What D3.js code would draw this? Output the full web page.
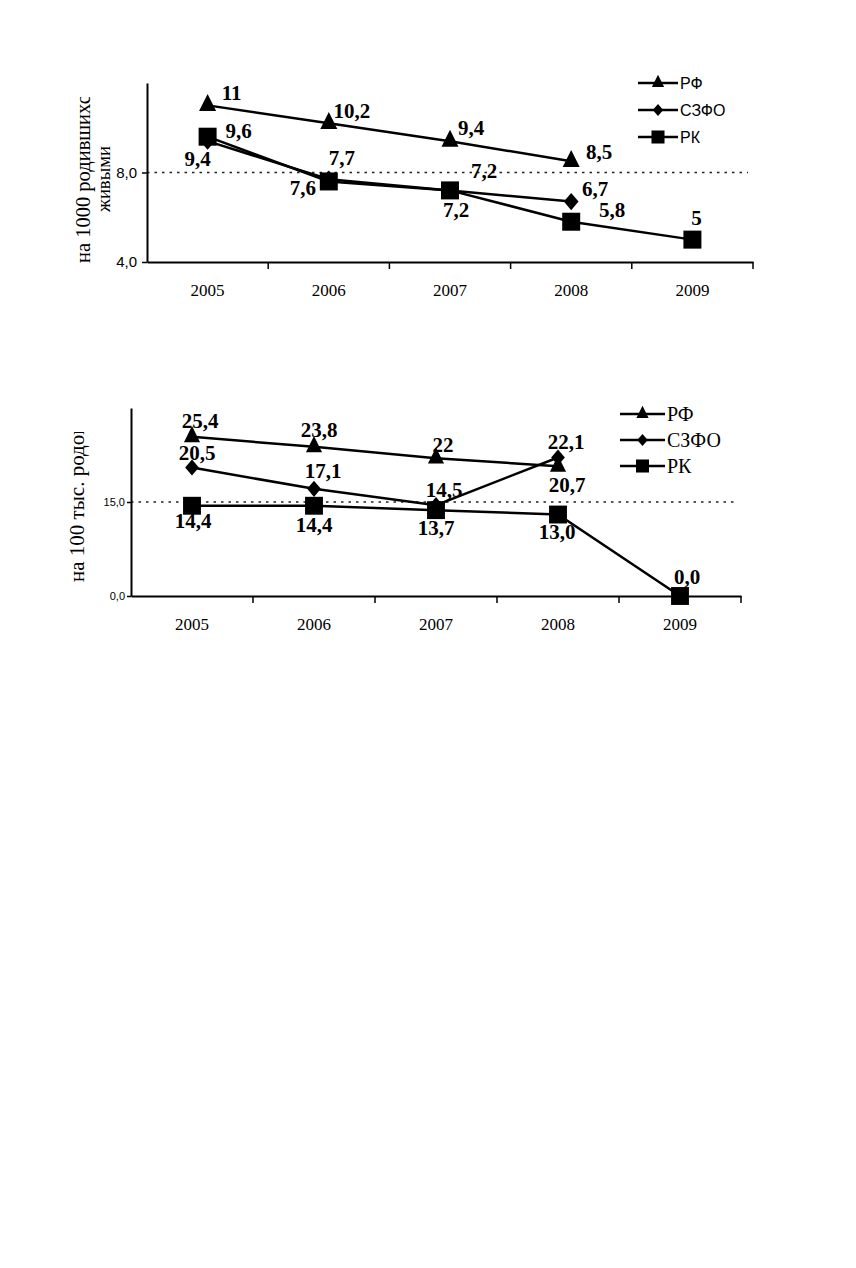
<!DOCTYPE html>
<html><head><meta charset="utf-8">
<script src="https://cdn.jsdelivr.net/npm/d3@7/dist/d3.min.js"></script>
<style>body{margin:0;background:#fff}svg{display:block}</style>
</head><body><svg id="c" width="856" height="1268"></svg>
<script>
// ---- data ----
const years = ["2005", "2006", "2007", "2008", "2009"];
const seriesNames = ["РФ", "СЗФО", "РК"];
// chart 1: per 1000 live births
const rf1 = [11, 10.2, 9.4, 8.5, null];
const szfo1 = [9.4, 7.7, 7.2, 6.7, null];
const rk1 = [9.6, 7.6, 7.2, 5.8, 5];
const yDomain1 = [4, 12];
const yTicks1 = [4, 8];
const refLine1 = 8;
const yTitle1a = "на 1000 родившихся";
const yTitle1b = "живыми";
// chart 2: per 100 thousand births
const rf2 = [25.4, 23.8, 22, 20.7, null];
const szfo2 = [20.5, 17.1, 14.5, 22.1, null];
const rk2 = [14.4, 14.4, 13.7, 13.0, 0.0];
const yDomain2 = [0, 30];
const yTicks2 = [0, 15];
const refLine2 = 15;
const yTitle2 = "на 100 тыс. родов";

// ---- label placement (dx, dy relative to point) ----
const lab1 = [
  [[24,-5],[23,-5],[21,-6],[28,-2]],
  [[-10,25],[13,-14],[34,-12],[24,-6]],
  [[31,1],[-26,14],[6,27],[41,-5],[4,-15]]
];
const lab2 = [
  [[8,-9],[5,-10],[7,-6],[9,26]],
  [[5,-8],[9,-11],[8,-8],[8,-9]],
  [[1,22],[0,26],[0,25],[-1,24],[7,-12]]
];

const svg = d3.select("#c");
const SERIF = "'Liberation Serif','Times New Roman',serif";
const SANS = "'Liberation Sans',Arial,sans-serif";

const triType = { draw(ctx, s) { const w = Math.sqrt(s); const h = w;
  ctx.moveTo(0, -h*2/3); ctx.lineTo(w/2, h/3); ctx.lineTo(-w/2, h/3); ctx.closePath(); } };
const diaType = { draw(ctx, s) { const w = Math.sqrt(s)*0.85, h = Math.sqrt(s);
  ctx.moveTo(0, -h/2); ctx.lineTo(w/2, 0); ctx.lineTo(0, h/2); ctx.lineTo(-w/2, 0); ctx.closePath(); } };
const sqType = { draw(ctx, s) { const w = Math.sqrt(s);
  ctx.rect(-w/2, -w/2, w, w); } };
const types = [triType, diaType, sqType];

const comma = v => String(v).replace(".", ",");
const fixed1 = v => v.toFixed(1).replace(".", ",");

function chart(cfg) {
  const g = svg.append("g");
  const x = d3.scaleBand().domain(years).range(cfg.xr).padding(0);
  const y = d3.scaleLinear().domain(cfg.yd).range(cfg.yr);

  // reference dotted line
  g.append("line").attr("x1", cfg.xr[0]).attr("x2", cfg.xr[1] - 5)
    .attr("y1", y(cfg.ref)).attr("y2", y(cfg.ref))
    .attr("stroke", "#222").attr("stroke-width", 1.5).attr("stroke-dasharray", "2.5,5");

  // y axis
  const ya = g.append("g").attr("transform", `translate(${cfg.xr[0]},0)`)
    .call(d3.axisLeft(y).tickValues(cfg.yTicks).tickSize(cfg.yTickSize).tickSizeOuter(0)
      .tickPadding(cfg.yPad).tickFormat(fixed1));
  ya.select(".domain").attr("stroke", "#000").attr("stroke-width", 2);
  ya.selectAll(".tick line").attr("stroke", "#000").attr("stroke-width", 1.5);
  ya.selectAll("text").attr("font-family", SANS).attr("font-size", cfg.yFont).attr("fill", "#000");

  // x axis
  const xa = g.append("g").attr("transform", `translate(0,${cfg.yr[0]})`)
    .call(d3.axisBottom(x).tickSize(0).tickSizeOuter(0));
  xa.select(".domain").attr("stroke", "#000").attr("stroke-width", 2);
  xa.selectAll("text").attr("y", 34).attr("dy", 0).attr("font-family", SERIF)
    .attr("font-size", cfg.xFont).attr("fill", "#000");
  const bounds = years.map(d => x(d)).concat([cfg.xr[1]]);
  g.selectAll(".bt").data(bounds.slice(1)).join("line")
    .attr("x1", d => d).attr("x2", d => d).attr("y1", cfg.yr[0]).attr("y2", cfg.yr[0] + 7)
    .attr("stroke", "#000").attr("stroke-width", 1.5);

  const cx = d => x(d) + x.bandwidth() / 2;
  const line = d3.line().defined(d => d.v != null).x(d => cx(d.year)).y(d => y(d.v));

  cfg.series.forEach((vals, si) => {
    const pts = vals.map((v, i) => ({ year: years[i], v }));
    g.append("path").datum(pts).attr("d", line).attr("fill", "none")
      .attr("stroke", "#000").attr("stroke-width", 2.5);
  });
  cfg.series.forEach((vals, si) => {
    const pts = vals.map((v, i) => ({ year: years[i], v })).filter(d => d.v != null);
    g.selectAll(null).data(pts).join("path")
      .attr("transform", d => `translate(${cx(d.year)},${y(d.v)})`)
      .attr("d", d3.symbol(types[si], cfg.msize[si])).attr("fill", "#000");
  });
  cfg.series.forEach((vals, si) => {
    const pts = vals.map((v, i) => ({ year: years[i], v, i })).filter(d => d.v != null);
    g.selectAll(null).data(pts).join("text")
      .attr("x", d => cx(d.year) + cfg.labs[si][d.i][0])
      .attr("y", d => y(d.v) + cfg.labs[si][d.i][1])
      .attr("text-anchor", "middle").attr("font-family", SERIF).attr("font-weight", "bold")
      .attr("font-size", cfg.labFont).attr("fill", "#000")
      .text(d => cfg.fmt[si](d.v));
  });

  // legend
  const lg = g.append("g");
  seriesNames.forEach((nm, i) => {
    const yy = cfg.leg.y[i];
    lg.append("line").attr("x1", cfg.leg.x1).attr("x2", cfg.leg.x2).attr("y1", yy).attr("y2", yy)
      .attr("stroke", "#000").attr("stroke-width", 2.5);
    lg.append("path").attr("transform", `translate(${(cfg.leg.x1 + cfg.leg.x2) / 2},${yy})`)
      .attr("d", d3.symbol(types[i], cfg.leg.ms[i])).attr("fill", "#000");
    lg.append("text").attr("x", cfg.leg.x2 + 2).attr("y", yy).attr("dy", "0.35em")
      .attr("font-family", cfg.leg.font).attr("font-size", cfg.leg.fs).attr("fill", "#000").text(nm);
  });
  return g;
}

chart({
  xr: [147, 753], yr: [262, 83], yd: yDomain1, yTicks: yTicks1, ref: refLine1,
  yTickSize: 5, yPad: 5, yFont: 15, xFont: 17, labFont: 21,
  series: [rf1, szfo1, rk1], labs: lab1, fmt: [comma, comma, comma],
  msize: [290, 300, 324],
  leg: { x1: 638, x2: 678, y: [83, 110, 137], ms: [150, 150, 170], font: SANS, fs: 16 }
});
chart({
  xr: [131, 741], yr: [596, 408], yd: yDomain2, yTicks: yTicks2, ref: refLine2,
  yTickSize: 4, yPad: 2, yFont: 11, xFont: 17, labFont: 21,
  series: [rf2, szfo2, rk2], labs: lab2, fmt: [comma, comma, fixed1],
  msize: [260, 260, 320],
  leg: { x1: 620, x2: 665, y: [414, 440, 466], ms: [150, 150, 170], font: SERIF, fs: 20 }
});

// y titles (clipped at the top like the original)
const defs = svg.append("defs");
defs.append("clipPath").attr("id", "cl1").attr("clipPathUnits", "userSpaceOnUse")
  .append("rect").attr("x", 0).attr("y", 97).attr("width", 140).attr("height", 200);
defs.append("clipPath").attr("id", "cl2").attr("clipPathUnits", "userSpaceOnUse")
  .append("rect").attr("x", 0).attr("y", 432).attr("width", 125).attr("height", 200);
svg.append("g").attr("clip-path", "url(#cl1)").append("text")
  .attr("transform", "translate(90,263) rotate(-90)").attr("text-anchor", "start")
  .attr("font-family", SERIF).attr("font-size", 20.5).attr("fill", "#000").text(yTitle1a);
svg.append("text")
  .attr("transform", "translate(110,179) rotate(-90)").attr("text-anchor", "middle")
  .attr("font-family", SERIF).attr("font-size", 19).attr("fill", "#000")
  .attr("textLength", 66).attr("lengthAdjust", "spacingAndGlyphs").text(yTitle1b);
svg.append("g").attr("clip-path", "url(#cl2)").append("text")
  .attr("transform", "translate(84,582) rotate(-90)").attr("text-anchor", "start")
  .attr("font-family", SERIF).attr("font-size", 21).attr("fill", "#000").text(yTitle2);
</script></body></html>
